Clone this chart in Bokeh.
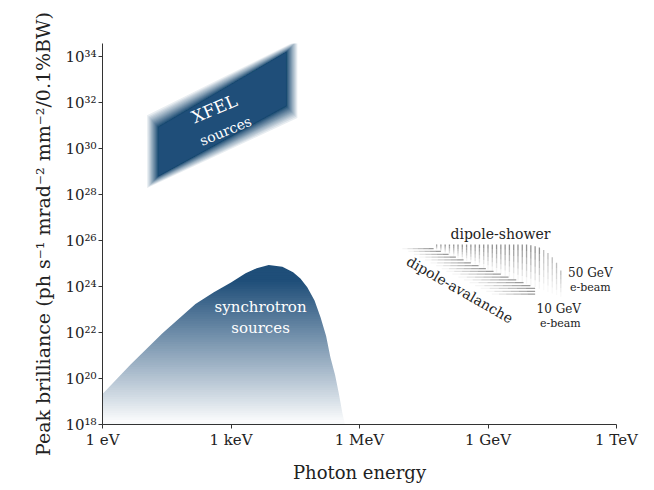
import math
from bokeh.plotting import figure
from bokeh.models import Range1d, FixedTicker, CustomJSTickFormatter
from bokeh.core.properties import value
from bokeh.embed import file_html
from bokeh.resources import INLINE

# ---------------- data ----------------
x_tick_values = [1, 1e3, 1e6, 1e9, 1e12]
x_tick_labels = ["1 eV", "1 keV", "1 MeV", "1 GeV", "1 TeV"]
y_tick_values = [1e18, 1e20, 1e22, 1e24, 1e26, 1e28, 1e30, 1e32, 1e34]
y_tick_labels = ["10¹⁸", "10²⁰", "10²²", "10²⁴", "10²⁶", "10²⁸", "10³⁰", "10³²", "10³⁴"]

# synchrotron envelope (photon energy in eV, peak brilliance)
synch_energy_eV = [1.0, 4.47, 25.1, 148, 398, 1000, 2190, 3980, 7590, 15800,
                   28200, 41700, 60300, 89100, 123000, 166000, 209000, 269000,
                   331000, 398000, 457000]
synch_brilliance = [2.14e19, 3.98e20, 9.33e21, 1.74e23, 5.62e23, 1.51e24, 3.8e24,
                    6.31e24, 8.71e24, 7.24e24, 4.17e24, 2.24e24, 9.33e23, 2.51e23,
                    4.68e22, 7.08e21, 8.51e20, 1.41e20, 2.14e19, 3.16e18, 1.0e18]

# XFEL parallelogram corners: bottom-left, top-left, top-right, bottom-right
xfel_energy_eV = [14.5, 14.5, 26900, 26900]
xfel_brilliance = [3.4e28, 1.66e31, 3.0e34, 3.8e31]

# dipole-shower stripes (log10 of eV, log10 of brilliance)
shower_log_energy = [7.8, 7.9, 8.0, 8.1, 8.2, 8.3, 8.4, 8.5, 8.6, 8.7, 8.8, 8.9,
                     9.0, 9.1, 9.2, 9.3, 9.4, 9.5, 9.6, 9.7, 9.8, 9.9, 10.0,
                     10.1, 10.2, 10.3, 10.4, 10.5, 10.6, 10.7]
shower_log_top = [25.83] * 22 + [25.80, 25.76, 25.70, 25.59, 25.46, 25.28, 25.04, 24.70]
shower_log_bottom = [25.60, 25.53, 25.46, 25.39, 25.32, 25.25, 25.18, 25.11,
                     25.04, 24.97, 24.90, 24.82, 24.75, 24.68, 24.61, 24.54,
                     24.47, 24.40, 24.33, 24.26, 24.19, 24.12, 24.05, 23.98,
                     23.91, 23.84, 23.77, 23.70, 23.63, 23.56]

# dipole-avalanche stripes
aval_log_level = [25.65, 25.53, 25.40, 25.28, 25.16, 25.03, 24.91, 24.78, 24.66,
                  24.54, 24.41, 24.29, 24.17, 24.04, 23.92, 23.79, 23.67]
aval_log_start = [7.00, 7.14, 7.27, 7.40, 7.53, 7.66, 7.79, 7.92, 8.03, 8.17,
                  8.31, 8.44, 8.57, 8.70, 8.83, 8.96, 9.09]
aval_log_end = [7.73, 7.90, 8.08, 8.25, 8.43, 8.60, 8.78, 8.95, 9.13, 9.30,
                9.48, 9.66, 9.83, 9.99, 10.10, 10.10, 10.10]

# labels
label_x = [410, 745, 4900, 4900, 1.95e9, 2.2e8, 2.45e11, 2.45e11, 4.5e10, 4.9e10]
label_y = [5.5e31, 6.0e30, 1.35e23, 1.6e22, 2.0e26, 7.4e23, 4.1e24, 9.1e23, 1.1e23, 2.45e22]

BLUE = (31, 78, 121)
SERIF = "DejaVu Serif"

p = figure(frame_width=514, frame_height=381, x_axis_type="log", y_axis_type="log",
           x_range=Range1d(1, 1e12), y_range=Range1d(1e18, 3.8e34),
           output_backend="svg", toolbar_location=None,
           min_border_left=102, min_border_right=30, min_border_top=43,
           min_border_bottom=58)
p.outline_line_color = None
p.xgrid.visible = False
p.ygrid.visible = False
p.background_fill_color = "white"
p.border_fill_color = "white"

# ---------------- synchrotron gradient ----------------
def mix(t):
    t = max(0.0, min(1.0, t))
    r = round(255 + (BLUE[0] - 255) * t)
    g = round(255 + (BLUE[1] - 255) * t)
    b = round(255 + (BLUE[2] - 255) * t)
    return "#%02x%02x%02x" % (r, g, b)

lev_logs = [18 + 0.1 * i for i in range(71)]
band_bottom = [10 ** l for l in lev_logs]
band_colors = [mix(((l - 18.0) / 6.2) ** 0.95 if l > 18 else 0.03) for l in lev_logs]
p.quad(left=[synch_energy_eV[0]] * len(band_bottom),
       right=[synch_energy_eV[-1]] * len(band_bottom),
       bottom=band_bottom, top=[1e25] * len(band_bottom),
       fill_color=band_colors, line_color=None)
mask_x = synch_energy_eV + [synch_energy_eV[-1] * 4]
mask_y = synch_brilliance + [synch_brilliance[-1]]
p.varea(x=mask_x, y1=mask_y, y2=[1e26] * len(mask_x), fill_color="white")

# ---------------- XFEL blurred parallelogram ----------------
lx = [math.log10(v) for v in xfel_energy_eV]
ly = [math.log10(v) for v in xfel_brilliance]
bx, by = 0.15, 0.30
a = 0.10
K = 40
xs, ys = [], []
def para(d):
    return ([10 ** (lx[0] - d * bx), 10 ** (lx[1] - d * bx),
             10 ** (lx[2] + d * bx), 10 ** (lx[3] + d * bx)],
            [10 ** (ly[0] - d * by), 10 ** (ly[1] + d * by),
             10 ** (ly[2] + d * by), 10 ** (ly[3] - d * by)])
for n in range(1, K + 1):
    c = 1 - (1 - a) ** n
    d = 1 - 2 * c
    px_, py_ = para(d)
    xs.append(px_)
    ys.append(py_)
p.patches(xs=xs, ys=ys, fill_color="#%02x%02x%02x" % BLUE, fill_alpha=a, line_color=None)
cx, cy = para(-1.0)
p.patch(x=cx, y=cy, fill_color="#%02x%02x%02x" % BLUE, line_color=None)

# ---------------- dipole stripes ----------------
seg_xs, seg_ys, seg_alpha = [], [], []
NS = 6
for e, t, b in zip(shower_log_energy, shower_log_top, shower_log_bottom):
    fade = 1.0
    if e >= 10.3:
        fade = 0.6
    for k in range(NS):
        y0 = t + (b - t) * k / NS
        y1 = t + (b - t) * (k + 1) / NS
        seg_xs.append([10 ** e, 10 ** e])
        seg_ys.append([10 ** y0, 10 ** y1])
        seg_alpha.append(fade * (0.55 - 0.5 * k / (NS - 1)))
for lvl, s, en in zip(aval_log_level, aval_log_start, aval_log_end):
    for k in range(NS):
        x0 = s + (en - s) * k / NS
        x1 = s + (en - s) * (k + 1) / NS
        seg_xs.append([10 ** x0, 10 ** x1])
        seg_ys.append([10 ** lvl, 10 ** lvl])
        seg_alpha.append(0.05 + 0.45 * k / (NS - 1))
p.multi_line(xs=seg_xs, ys=seg_ys, line_color="#3a3a3a", line_alpha=seg_alpha, line_width=1.3)

# ---------------- labels ----------------
def txt(i, s, size, color, angle=0.0):
    p.text(x=[label_x[i]], y=[label_y[i]], text=[s], angle=angle,
           text_font=value(SERIF), text_font_size=size, text_color=color,
           text_align="center", text_baseline="middle")

txt(0, "XFEL", "17px", "white", 0.40)
txt(1, "sources", "14px", "white", 0.40)
txt(2, "synchrotron", "15px", "white")
txt(3, "sources", "15px", "white")
txt(4, "dipole-shower", "14px", "#222222")
txt(5, "dipole-avalanche", "14px", "#222222", -0.52)
txt(6, "50 GeV", "12px", "#222222")
txt(7, "e-beam", "11px", "#222222")
txt(8, "10 GeV", "12px", "#222222")
txt(9, "e-beam", "11px", "#222222")

# ---------------- axes ----------------
fmt_code = """
let best = 0, bd = Infinity;
for (let i = 0; i < vals.length; i++) {
  const dd = Math.abs(Math.log10(vals[i]) - Math.log10(tick));
  if (dd < bd) { bd = dd; best = i; }
}
return labs[best];
"""
p.xaxis.ticker = FixedTicker(ticks=x_tick_values, minor_ticks=[])
p.yaxis.ticker = FixedTicker(ticks=y_tick_values, minor_ticks=[])
p.xaxis.formatter = CustomJSTickFormatter(args=dict(vals=x_tick_values, labs=x_tick_labels), code=fmt_code)
p.yaxis.formatter = CustomJSTickFormatter(args=dict(vals=y_tick_values, labs=y_tick_labels), code=fmt_code)
p.xaxis.axis_label = "Photon energy"
p.yaxis.axis_label = "Peak brilliance (ph s⁻¹ mrad⁻² mm⁻²/0.1%BW)"
for ax in (p.xaxis, p.yaxis):
    ax.axis_line_color = "#333333"
    ax.major_tick_line_color = "#333333"
    ax.minor_tick_line_color = None
    ax.major_tick_in = 0
    ax.major_tick_out = 4
    ax.major_label_standoff = 2
    ax.major_label_text_font = SERIF
    ax.major_label_text_font_size = "15px"
    ax.major_label_text_color = "#222222"
    ax.axis_label_text_font = SERIF
    ax.axis_label_text_font_style = "normal"
    ax.axis_label_text_color = "#222222"
p.xaxis.axis_label_text_font_size = "18px"
p.yaxis.axis_label_text_font_size = "19px"
p.xaxis.axis_label_standoff = 10
p.yaxis.axis_label_standoff = 8

with open("out.html", "w", encoding="utf-8") as f:
    f.write(file_html(p, INLINE))
